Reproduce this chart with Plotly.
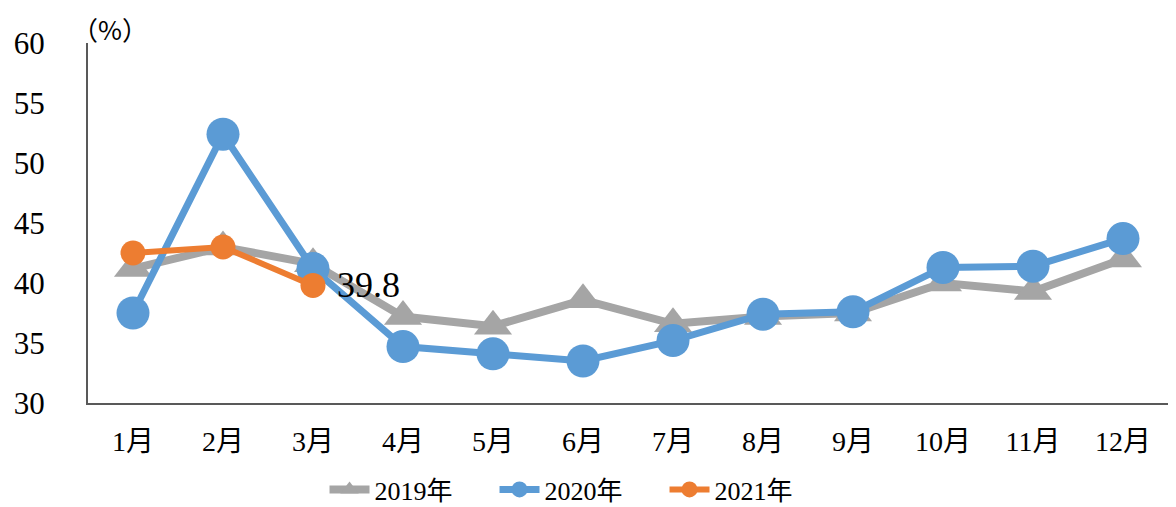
import plotly.graph_objects as go

months = ["1月", "2月", "3月", "4月", "5月", "6月", "7月", "8月", "9月", "10月", "11月", "12月"]
y2019 = [41.2, 43.0, 41.6, 37.2, 36.4, 38.6, 36.6, 37.2, 37.5, 40.0, 39.3, 42.0]
y2020 = [37.5, 52.4, 41.2, 34.7, 34.1, 33.5, 35.2, 37.4, 37.6, 41.3, 41.4, 43.7]
y2021 = [42.5, 43.0, 39.8]
label_index = 2
label_text = "39.8"
yticks = [30, 35, 40, 45, 50, 55, 60]

FONT = "Liberation Serif, Noto Sans CJK SC, serif"

fig = go.Figure()
fig.add_trace(go.Scatter(
    x=months, y=y2019, name="2019年", mode="lines+markers",
    line=dict(color="#A5A5A5", width=8),
    marker=dict(symbol="triangle-up", size=33, color="#A5A5A5"),
))
fig.add_trace(go.Scatter(
    x=months, y=y2020, name="2020年", mode="lines+markers",
    line=dict(color="#5B9BD5", width=7),
    marker=dict(symbol="circle", size=33, color="#5B9BD5"),
))
fig.add_trace(go.Scatter(
    x=months[:3], y=y2021, name="2021年", mode="lines+markers",
    line=dict(color="#ED7D31", width=6),
    marker=dict(symbol="circle", size=25, color="#ED7D31"),
))

fig.update_layout(
    width=1168, height=499,
    margin=dict(l=80, r=8, t=35, b=104, autoexpand=False),
    paper_bgcolor="white", plot_bgcolor="white",
    font=dict(family=FONT, color="#000000"),
    showlegend=True,
    legend=dict(orientation="h", x=0.219, xanchor="left", y=-0.175, yanchor="top",
                font=dict(family=FONT, size=26), itemwidth=40, tracegroupgap=0,
                entrywidth=115, entrywidthmode="pixels"),
    annotations=[
        dict(text="（%）", xref="paper", yref="paper", x=-0.017, y=1.0,
             xanchor="left", yanchor="middle", yshift=15, showarrow=False,
             font=dict(family="Noto Sans CJK SC", size=26)),
        dict(text=label_text, x=months[label_index], y=y2021[label_index],
             xref="x", yref="y", xanchor="left", yanchor="middle", xshift=22,
             showarrow=False, font=dict(family=FONT, size=36, color="#000000")),
    ],
)
fig.update_xaxes(
    range=[-0.5, 11.5],
    showline=True, linecolor="#595959", linewidth=2, showgrid=False, ticks="",
    tickfont=dict(family=FONT, size=28), ticklabelstandoff=12,
)
fig.update_yaxes(
    range=[30, 60], tickvals=yticks, showline=True, linecolor="#595959", linewidth=2,
    showgrid=False, zeroline=False, ticks="",
    tickfont=dict(family=FONT, size=31), ticklabelstandoff=35,
)

fig.write_html("out.html")
